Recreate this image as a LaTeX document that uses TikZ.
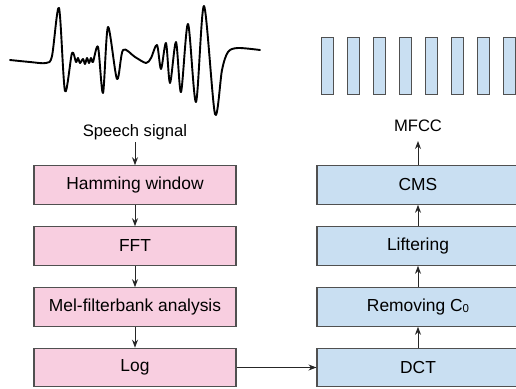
\documentclass[tikz,border=0pt]{standalone}
\usepackage{fontspec}
\setmainfont{Liberation Sans}
\usetikzlibrary{arrows.meta}
\definecolor{boxpink}{RGB}{248,206,224}
\definecolor{boxblue}{RGB}{201,223,242}
\definecolor{edgegray}{RGB}{80,80,80}
\tikzset{
  stepbox/.style={draw=edgegray, line width=1.1pt, minimum width=202pt, minimum height=38.5pt, inner sep=0pt, font=\fontsize{17.4}{20}\selectfont},
  pinkbox/.style={stepbox, fill=boxpink},
  bluebox/.style={stepbox, fill=boxblue},
  flow/.style={draw=black!85, line width=1pt, -{Stealth[length=8pt,width=6pt]}},
  label/.style={font=\fontsize{16.6}{19}\selectfont, inner sep=0pt},
  bar/.style={draw=edgegray, line width=1pt, fill=boxblue},
  wave/.style={line width=1.9pt, black, line join=round, line cap=round}
}
\begin{document}
\begin{tikzpicture}[x=1pt,y=-1pt]
\useasboundingbox (0,0) rectangle (516,388);
% waveform
\draw[wave] plot[smooth, tension=0.5] coordinates {
(10,60) (30,62) (46,63) (52,56) (59,8) (65,91) (72,53) (76,62) (78,58) (80,63) (83,59) (85,64) (87,58) (89,63) (91,58) (93,62) (98,47) (103,93) (108,27) (117,79) (123,50) (135,57) (146,63) (151,58) (157,45) (161,69) (166,43) (170,83) (176,42) (181,92) (188,24) (196,102) (204,6) (215,114) (222,70) (228,52) (238,48) (260,50)};
% MFCC bars
\foreach \i in {0,...,7} {
  \draw[bar] (321+26*\i,37) rectangle (333+26*\i,94);
}
% labels
\node[label, anchor=base] (speech) at (135,136) {Speech signal};
\node[label, anchor=base] (mfcc) at (418,131.5) {MFCC};
\coordinate (speechout) at (135,142);
\coordinate (mfccin) at (418,141);
% left column
\node[pinkbox] (ham) at (135,185) {Hamming window};
\node[pinkbox] (fft) at (135,246) {FFT};
\node[pinkbox] (mel) at (135,307) {Mel-filterbank analysis};
\node[pinkbox] (log) at (135,367.5) {Log};
% right column
\node[bluebox] (dct) at (418,367.5) {DCT};
\node[bluebox] (rem) at (418,307) {Removing C\raisebox{-1pt}{\fontsize{11.5}{11.5}\selectfont 0}};
\node[bluebox] (lift) at (418,246) {Liftering};
\node[bluebox] (cms) at (418,185) {CMS};
% connectors
\draw[flow] (speechout) -- (ham.north);
\draw[flow] (ham) -- (fft);
\draw[flow] (fft) -- (mel);
\draw[flow] (mel) -- (log);
\draw[flow] (log) -- (dct);
\draw[flow] (dct) -- (rem);
\draw[flow] (rem) -- (lift);
\draw[flow] (lift) -- (cms);
\draw[flow] (cms) -- (mfccin);
\end{tikzpicture}
\end{document}
